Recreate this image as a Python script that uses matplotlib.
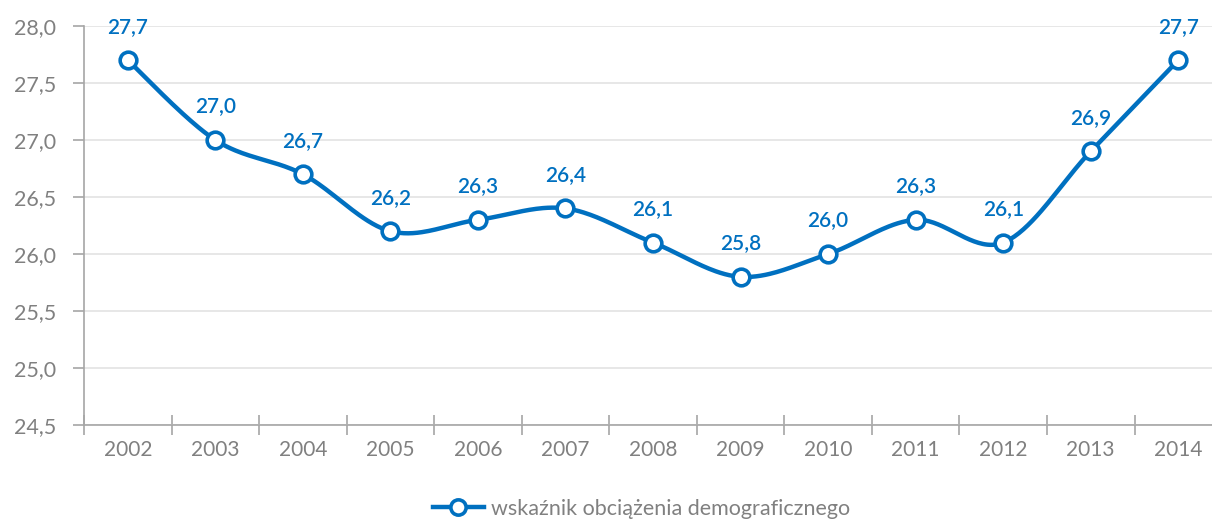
import numpy as np
import matplotlib.pyplot as plt
from matplotlib.lines import Line2D

plt.rcParams['font.family'] = ['Lato', 'DejaVu Sans']

#
# Data
years = ['2002', '2003', '2004', '2005', '2006', '2007', '2008',
         '2009', '2010', '2011', '2012', '2013', '2014']
values = [27.7, 27.0, 26.7, 26.2, 26.3, 26.4, 26.1,
          25.8, 26.0, 26.3, 26.1, 26.9, 27.7]
series_name = 'wskaźnik obciążenia demograficznego'

blue = '#0070C0'
grey = '#808080'

#
# Smoothed curve through the points (cubic Bezier, Catmull-Rom tangents)
def smooth(x, y, n=40):
    p = np.column_stack([x, y]).astype(float)
    ext = np.vstack([p[0], p, p[-1]])
    out = []
    t = np.linspace(0, 1, n)[:, None]
    for i in range(len(p) - 1):
        p0 = ext[i + 1]
        p3 = ext[i + 2]
        p1 = p0 + (ext[i + 2] - ext[i]) / 6
        p2 = p3 - (ext[i + 3] - ext[i + 1]) / 6
        seg = ((1 - t)**3 * p0 + 3 * (1 - t)**2 * t * p1
               + 3 * (1 - t) * t**2 * p2 + t**3 * p3)
        out.append(seg if i == 0 else seg[1:])
    out = np.vstack(out)
    return out[:, 0], out[:, 1]

x = np.arange(len(years))
sx, sy = smooth(x, values)

fig = plt.figure(figsize=(12.12, 5.19), dpi=100)
ax = fig.add_axes([0.0693, 0.181, 0.939, 0.769])

ax.plot(sx, sy, color=blue, lw=3.2, solid_capstyle='round', zorder=3)
ax.plot(x, values, 'o', ms=12, mfc='white', mec=blue, mew=2.6, zorder=4)

for xi, v in zip(x, values):
    ax.annotate(f'{v:.1f}'.replace('.', ','), (xi, v), xytext=(0, 17),
                textcoords='offset points', ha='center', va='bottom',
                color=blue, fontsize=15, fontweight='semibold')

ax.set_xlim(-0.5, len(years) - 0.5)
ax.set_ylim(24.5, 28.0)
yt = np.arange(24.5, 28.01, 0.5)
ax.set_yticks(yt)
ax.set_yticklabels([f'{v:.1f}'.replace('.', ',') for v in yt])
ax.set_xticks(x)
ax.set_xticklabels(years)
ax.set_xticks(np.arange(-0.5, len(years), 1), minor=True)
ax.tick_params(axis='x', which='major', length=0, pad=11, labelsize=15,
               labelcolor=grey)
ax.tick_params(axis='x', which='minor', length=14, width=1.2,
               direction='inout', color='#A6A6A6')
ax.tick_params(axis='y', length=8, width=1.2, color='#A6A6A6', pad=12,
               labelsize=15.5, labelcolor=grey)

ax.grid(axis='y', color='#E3E3E3', lw=1.2)
ax.set_axisbelow(True)
for s in ['top', 'right']:
    ax.spines[s].set_visible(False)
for s in ['left', 'bottom']:
    ax.spines[s].set_color('#A6A6A6')
    ax.spines[s].set_linewidth(1.2)

handle = Line2D([], [], color=blue, lw=3.2, marker='o', ms=11, mfc='white',
                mec=blue, mew=2.6)
fig.legend([handle], [series_name], loc='center', bbox_to_anchor=(0.529, 0.02),
           frameon=False, fontsize=15.5, labelcolor=grey, handlelength=2.4,
           handletextpad=0.3)

fig.savefig('out.png', dpi=100)
